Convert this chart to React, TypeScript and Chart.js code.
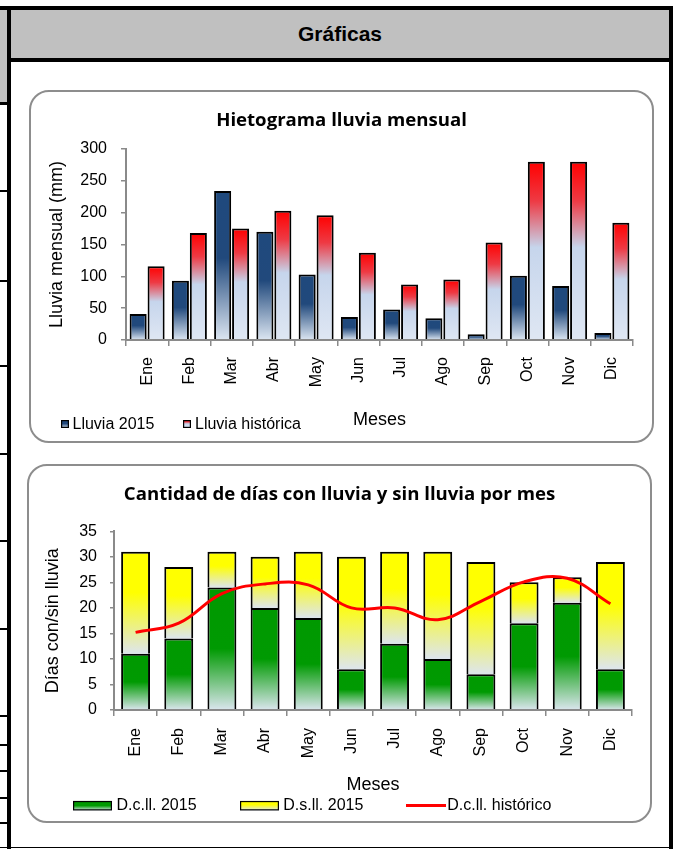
import React, { useEffect, useRef } from 'react';
import { Chart, registerables } from 'chart.js';

Chart.register(...registerables);
Chart.defaults.font.family = "'Liberation Sans', Arial, sans-serif";
Chart.defaults.color = '#000';

// ---------- data ----------
const months = ['Ene', 'Feb', 'Mar', 'Abr', 'May', 'Jun', 'Jul', 'Ago', 'Sep', 'Oct', 'Nov', 'Dic'];
const lluvia2015 = [41, 93, 234, 170, 103, 36, 48, 34, 9, 101, 85, 11];
const lluviaHistorica = [116, 168, 175, 203, 196, 137, 87, 95, 153, 280, 280, 184];
const diasConLluvia2015 = [11, 14, 24, 20, 18, 8, 13, 10, 7, 17, 21, 8];
const diasSinLluvia2015 = [20, 14, 7, 10, 13, 22, 18, 21, 22, 8, 5, 21];
const diasConLluviaHistorico = [15.2, 17.0, 22.8, 24.7, 24.5, 20.0, 20.0, 17.7, 21.3, 25.1, 25.8, 20.8];
const rainAxis = { min: 0, max: 300, step: 50 };
const daysAxis = { min: 0, max: 35, step: 5 };

// ---------- styles ----------
const AXIS = '#8a8a8a';
const BLUE_STOPS: [number, string][] = [[0, '#1f497d'], [0.45, '#21497c'], [1, '#dce6f2']];
const RED_STOPS: [number, string][] = [[0, '#ff0000'], [0.22, '#ee3a44'], [0.48, '#c6d5ec'], [1, '#dfe7f3']];
const GREEN_STOPS: [number, string][] = [[0, '#009900'], [0.5, '#009a02'], [1, '#dbe6ee']];
const YELLOW_STOPS: [number, string][] = [[0, '#ffff00'], [0.4, '#ffff00'], [1, '#dde5ee']];

function vGrad(ctx: CanvasRenderingContext2D, top: number, bottom: number, stops: [number, string][]) {
  const g = ctx.createLinearGradient(0, top, 0, bottom);
  stops.forEach(([o, c]) => g.addColorStop(o, c));
  return g;
}

function barFill(stops: [number, string][], baseOf: (i: number) => number, topOf: (i: number) => number) {
  return (c: any) => {
    const chart = c.chart;
    const y = chart.scales && chart.scales.y;
    if (c.type !== 'data' || !y || !chart.chartArea) return stops[0][1];
    const i = c.dataIndex;
    const top = y.getPixelForValue(topOf(i));
    const bottom = y.getPixelForValue(baseOf(i));
    if (!isFinite(top) || !isFinite(bottom) || bottom - top < 0.5) return stops[0][1];
    return vGrad(chart.ctx, top, bottom, stops);
  };
}

type LegendItem = {
  datasetIndex: number;
  kind: 'box' | 'line';
  x: number;
  y: number;
  w: number;
  h: number;
  stops?: [number, string][];
  textX: number;
  textY: number;
};

function makeLegendPlugin(items: LegendItem[]) {
  return {
    id: 'customLegend',
    afterDraw(chart: any) {
      const ctx: CanvasRenderingContext2D = chart.ctx;
      ctx.save();
      items.forEach((it) => {
        const ds = chart.data.datasets[it.datasetIndex];
        if (it.kind === 'line') {
          ctx.strokeStyle = ds.borderColor;
          ctx.lineWidth = ds.borderWidth;
          ctx.beginPath();
          ctx.moveTo(it.x, it.y);
          ctx.lineTo(it.x + it.w, it.y);
          ctx.stroke();
        } else {
          const top = it.y - it.h / 2;
          ctx.fillStyle = vGrad(ctx, top, top + it.h, it.stops || [[0, '#000'], [1, '#000']]);
          ctx.fillRect(it.x, top, it.w, it.h);
          ctx.strokeStyle = '#000';
          ctx.lineWidth = 1.2;
          ctx.strokeRect(it.x + 0.6, top + 0.6, it.w - 1.2, it.h - 1.2);
        }
        ctx.fillStyle = '#000';
        ctx.font = "16px 'Liberation Sans', Arial, sans-serif";
        ctx.textAlign = 'left';
        ctx.textBaseline = 'middle';
        ctx.fillText(ds.label, it.textX, it.textY);
      });
      ctx.restore();
    },
  };
}

const tickFont = { size: 16 };
const axisTitleFont = { size: 18 };
const chartTitleFont = { family: "'Open Sans', Lato, sans-serif", size: 18.6, weight: 'bold' as const };

const fixWidth = (w: number) => (s: any) => {
  s.width = w;
};
const fixHeight = (h: number) => (s: any) => {
  s.height = h;
};

function rainConfig(): any {
  return {
    type: 'bar',
    data: {
      labels: months,
      datasets: [
        {
          label: 'Lluvia 2015',
          data: lluvia2015,
          backgroundColor: barFill(BLUE_STOPS, () => 0, (i) => lluvia2015[i]),
          borderColor: '#000',
          borderWidth: 2,
          barPercentage: 0.95,
          categoryPercentage: 0.85,
        },
        {
          label: 'Lluvia histórica',
          data: lluviaHistorica,
          backgroundColor: barFill(RED_STOPS, () => 0, (i) => lluviaHistorica[i]),
          borderColor: '#000',
          borderWidth: 2,
          barPercentage: 0.95,
          categoryPercentage: 0.85,
        },
      ],
    },
    options: {
      responsive: false,
      animation: false,
      layout: { padding: { left: 19, right: 19, top: 0, bottom: 0 } },
      plugins: {
        legend: { display: false },
        tooltip: { enabled: false },
        title: {
          display: true,
          text: 'Hietograma lluvia mensual',
          font: chartTitleFont,
          color: '#000',
          padding: { top: 17.5, bottom: 17.2 },
        },
      },
      scales: {
        x: {
          offset: true,
          afterFit: fixHeight(101),
          grid: { offset: true, drawOnChartArea: false, drawTicks: true, tickLength: 6, color: AXIS, tickColor: AXIS, lineWidth: 1.5 },
          border: { color: AXIS, width: 2, z: 1 },
          ticks: { autoSkip: false, minRotation: 90, maxRotation: 90, padding: 11, font: tickFont, color: '#000' },
          title: { display: true, text: 'Meses', font: axisTitleFont, color: '#000', padding: { top: 0, bottom: 10.2 } },
        },
        y: {
          min: rainAxis.min,
          max: rainAxis.max,
          afterFit: fixWidth(76),
          grid: { drawOnChartArea: false, drawTicks: true, tickLength: 5, color: AXIS, tickColor: AXIS, lineWidth: 1.5 },
          border: { color: AXIS, width: 2, z: 1 },
          ticks: { stepSize: rainAxis.step, padding: 14, font: tickFont, color: '#000' },
          title: { display: true, text: 'Lluvia mensual (mm)', font: axisTitleFont, color: '#000', padding: { top: -3.3, bottom: 0 } },
        },
      },
    },
    plugins: [
      makeLegendPlugin([
        { datasetIndex: 0, kind: 'box', x: 30, y: 332, w: 8, h: 8, stops: BLUE_STOPS, textX: 41.5, textY: 333 },
        { datasetIndex: 1, kind: 'box', x: 152, y: 332, w: 8, h: 8, stops: RED_STOPS, textX: 164, textY: 333 },
      ]),
    ],
  };
}

function daysConfig(): any {
  return {
    type: 'bar',
    data: {
      labels: months,
      datasets: [
        {
          type: 'line',
          label: 'D.c.ll. histórico',
          data: diasConLluviaHistorico,
          borderColor: '#ff0000',
          backgroundColor: '#ff0000',
          borderWidth: 3,
          pointRadius: 0,
          tension: 0.4,
          fill: false,
          order: 0,
          stack: 'hist',
        },
        {
          label: 'D.c.ll. 2015',
          data: diasConLluvia2015,
          backgroundColor: barFill(GREEN_STOPS, () => 0, (i) => diasConLluvia2015[i]),
          borderColor: '#000',
          borderWidth: 2,
          barPercentage: 1,
          categoryPercentage: 0.67,
          order: 1,
          stack: 'dias',
        },
        {
          label: 'D.s.ll. 2015',
          data: diasSinLluvia2015,
          backgroundColor: barFill(
            YELLOW_STOPS,
            (i) => diasConLluvia2015[i],
            (i) => diasConLluvia2015[i] + diasSinLluvia2015[i]
          ),
          borderColor: '#000',
          borderWidth: 2,
          barPercentage: 1,
          categoryPercentage: 0.67,
          order: 1,
          stack: 'dias',
        },
      ],
    },
    options: {
      responsive: false,
      animation: false,
      layout: { padding: { left: 18, right: 18, top: 0, bottom: 0 } },
      plugins: {
        legend: { display: false },
        tooltip: { enabled: false },
        title: {
          display: true,
          text: 'Cantidad de días con lluvia y sin lluvia por mes',
          font: chartTitleFont,
          color: '#000',
          padding: { top: 18, bottom: 25.0 },
        },
      },
      scales: {
        x: {
          stacked: true,
          offset: true,
          afterFit: fixHeight(111),
          grid: { offset: true, drawOnChartArea: false, drawTicks: true, tickLength: 6, color: AXIS, tickColor: AXIS, lineWidth: 1.5 },
          border: { color: AXIS, width: 2, z: 1 },
          ticks: { autoSkip: false, minRotation: 90, maxRotation: 90, padding: 12, font: tickFont, color: '#000' },
          title: { display: true, text: 'Meses', font: axisTitleFont, color: '#000', padding: { top: 0, bottom: 24.7 } },
        },
        y: {
          stacked: true,
          min: daysAxis.min,
          max: daysAxis.max,
          afterFit: fixWidth(67),
          grid: { drawOnChartArea: false, drawTicks: true, tickLength: 4, color: AXIS, tickColor: AXIS, lineWidth: 1.5 },
          border: { color: AXIS, width: 2, z: 1 },
          ticks: { stepSize: daysAxis.step, padding: 13, font: tickFont, color: '#000' },
          title: { display: true, text: 'Días con/sin lluvia', font: axisTitleFont, color: '#000', padding: { top: -4.8, bottom: 0 } },
        },
      },
    },
    plugins: [
      makeLegendPlugin([
        { datasetIndex: 1, kind: 'box', x: 44, y: 339.7, w: 39, h: 9.5, stops: GREEN_STOPS, textX: 87.5, textY: 339.5 },
        { datasetIndex: 2, kind: 'box', x: 211, y: 339.7, w: 39, h: 9.5, stops: YELLOW_STOPS, textX: 254.3, textY: 339.5 },
        { datasetIndex: 0, kind: 'line', x: 377, y: 339.5, w: 40, h: 3, textX: 418.3, textY: 339.5 },
      ]),
    ],
  };
}

function ChartCanvas({ width, height, config }: { width: number; height: number; config: () => any }) {
  const ref = useRef<HTMLCanvasElement | null>(null);
  useEffect(() => {
    if (!ref.current) return;
    const chart = new Chart(ref.current, config());
    return () => chart.destroy();
  }, []);
  return <canvas ref={ref} width={width} height={height} style={{ display: 'block', width, height }} />;
}

const abs = (left: number, top: number, width: number, height: number, extra: any = {}) => ({
  position: 'absolute' as const,
  left,
  top,
  width,
  height,
  ...extra,
});

const leftMarks = [190, 280, 365, 453, 540, 628, 715, 744, 770, 797, 822];

export default function App() {
  return (
    <div style={abs(0, 0, 677, 849, { background: '#fff', overflow: 'hidden' })}>
      {/* spreadsheet frame */}
      <div style={abs(0, 10, 7, 92, { background: '#c0c0c0' })} />
      <div style={abs(0, 102, 7, 3, { background: '#000' })} />
      {leftMarks.map((y) => (
        <div key={y} style={abs(0, y, 7, 2, { background: '#000' })} />
      ))}
      <div style={abs(0, 6, 673, 4, { background: '#000' })} />
      <div style={abs(7, 6, 4, 843, { background: '#000' })} />
      <div style={abs(669, 6, 4, 843, { background: '#000' })} />
      <div style={abs(0, 847, 669, 1, { background: '#000' })} />
      <div
        style={abs(11, 10, 658, 48, {
          background: '#c0c0c0',
          display: 'flex',
          alignItems: 'center',
          justifyContent: 'center',
          font: "bold 21px 'Liberation Sans', Arial, sans-serif",
          color: '#000',
        })}
      >
        Gráficas
      </div>
      <div style={abs(11, 58, 658, 4, { background: '#000' })} />

      {/* chart 1 */}
      <div style={abs(29, 90, 625, 353, { border: '2px solid #8d8d8d', borderRadius: 20, boxSizing: 'border-box', background: '#fff', overflow: 'hidden' })}>
        <ChartCanvas width={621} height={349} config={rainConfig} />
      </div>

      {/* chart 2 */}
      <div style={abs(27, 464, 625, 359, { border: '2px solid #8d8d8d', borderRadius: 20, boxSizing: 'border-box', background: '#fff', overflow: 'hidden' })}>
        <ChartCanvas width={621} height={355} config={daysConfig} />
      </div>
    </div>
  );
}
